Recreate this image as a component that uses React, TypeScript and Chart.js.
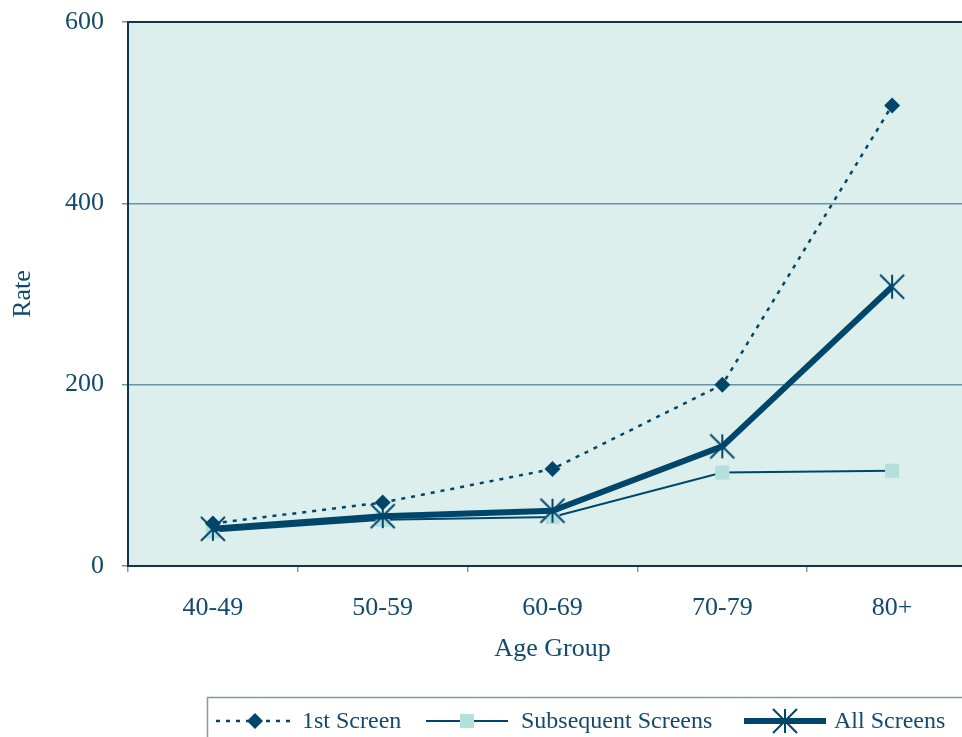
import { useEffect, useRef } from "react";
import { Chart, registerables } from "chart.js";

Chart.register(...registerables);

// Rates by age group for each screening round
const ageGroups = ["40-49", "50-59", "60-69", "70-79", "80+"];
const firstScreen = [47, 70, 107, 200, 508];
const subsequentScreens = [38, 51, 54, 103, 105];
const allScreens = [41, 55, 61, 132, 308];
const rateTicks = [0, 200, 400, 600];

const NAVY = "#00466b";
const TEAL = "#b3e0da";
const PLOT_BG = "#ddefed";
const TEXT = "#134a6b";
const GRID = "#6a93a8";
const FRAME = "#12344d";
const FONT = "'Liberation Serif', 'Times New Roman', serif";

// Asterisk marker: a vertical stroke crossed by two diagonals
function makeStarMarker(): HTMLCanvasElement {
  const c = document.createElement("canvas");
  c.width = 28;
  c.height = 28;
  const g = c.getContext("2d")!;
  g.strokeStyle = NAVY;
  g.lineWidth = 2;
  g.beginPath();
  g.moveTo(14, 2);
  g.lineTo(14, 26);
  g.moveTo(2, 2);
  g.lineTo(26, 26);
  g.moveTo(26, 2);
  g.lineTo(2, 26);
  g.stroke();
  return c;
}

const plotBackground = {
  id: "plotBackground",
  beforeDraw(chart: any) {
    const { ctx, chartArea: a } = chart;
    ctx.save();
    ctx.fillStyle = PLOT_BG;
    ctx.fillRect(a.left, a.top, a.right - a.left, a.bottom - a.top);
    ctx.restore();
  },
  beforeDatasetsDraw(chart: any) {
    const { ctx, chartArea: a } = chart;
    ctx.save();
    ctx.strokeStyle = FRAME;
    ctx.lineWidth = 2;
    ctx.beginPath();
    ctx.moveTo(a.left, a.top);
    ctx.lineTo(a.right, a.top);
    ctx.lineTo(a.right, a.bottom);
    ctx.stroke();
    ctx.restore();
  },
};

// Boxed legend below the chart with a line sample and marker per series
const legendSlots = [
  { from: 216, to: 294, text: 302 },
  { from: 426, to: 508, text: 521 },
  { from: 744, to: 826, text: 834 },
];

const lineLegend = {
  id: "lineLegend",
  afterDraw(chart: any) {
    const { ctx } = chart;
    const boxLeft = 207;
    const boxTop = 697;
    const rowY = 721;
    ctx.save();
    ctx.strokeStyle = "#7f9cae";
    ctx.lineWidth = 1.5;
    ctx.strokeRect(boxLeft + 0.5, boxTop + 0.5, 2000, 200);

    ctx.font = `24px ${FONT}`;
    ctx.textBaseline = "middle";
    ctx.textAlign = "left";
    chart.data.datasets.forEach((ds: any, i: number) => {
      const slot = legendSlots[i];
      ctx.save();
      ctx.strokeStyle = ds.borderColor;
      ctx.lineWidth = ds.borderWidth;
      ctx.setLineDash(ds.borderDash || []);
      ctx.beginPath();
      ctx.moveTo(slot.from, rowY);
      ctx.lineTo(slot.to, rowY);
      ctx.stroke();
      ctx.restore();
      const mx = (slot.from + slot.to) / 2;
      const style = ds.pointStyle;
      if (style instanceof HTMLCanvasElement) {
        ctx.drawImage(style, mx - style.width / 2, rowY - style.height / 2);
      } else {
        ctx.save();
        ctx.fillStyle = ds.pointBackgroundColor;
        ctx.beginPath();
        if (style === "rectRot") {
          const r = ds.pointRadius;
          ctx.moveTo(mx, rowY - r);
          ctx.lineTo(mx + r, rowY);
          ctx.lineTo(mx, rowY + r);
          ctx.lineTo(mx - r, rowY);
          ctx.closePath();
        } else {
          const h = ds.pointRadius * Math.SQRT1_2;
          ctx.rect(mx - h, rowY - h, 2 * h, 2 * h);
        }
        ctx.fill();
        ctx.restore();
      }
      ctx.fillStyle = TEXT;
      ctx.fillText(ds.label, slot.text, rowY + 1);
    });
    ctx.restore();
  },
};

export default function App() {
  const canvasRef = useRef<HTMLCanvasElement | null>(null);

  useEffect(() => {
    const canvas = canvasRef.current;
    if (!canvas) return;
    const star = makeStarMarker();
    const chart = new Chart(canvas, {
      type: "line",
      data: {
        labels: ageGroups,
        datasets: [
          {
            label: "1st Screen",
            data: firstScreen,
            borderColor: NAVY,
            borderWidth: 2.5,
            borderDash: [4, 6],
            pointStyle: "rectRot",
            pointRadius: 8,
            pointBackgroundColor: NAVY,
            pointBorderWidth: 0,
            tension: 0,
            order: 1,
          },
          {
            label: "Subsequent Screens",
            data: subsequentScreens,
            borderColor: NAVY,
            borderWidth: 2,
            pointStyle: "rect",
            pointRadius: 10,
            pointBackgroundColor: TEAL,
            pointBorderWidth: 0,
            tension: 0,
            order: 2,
          },
          {
            label: "All Screens",
            data: allScreens,
            borderColor: NAVY,
            borderWidth: 6,
            pointStyle: star as any,
            pointRadius: 12,
            pointBackgroundColor: NAVY,
            pointBorderWidth: 0,
            tension: 0,
            order: 0,
          },
        ],
      },
      options: {
        responsive: false,
        animation: false,
        events: [],
        layout: { padding: { top: 22, right: 3, bottom: 60, left: 0 } },
        plugins: {
          legend: { display: false },
          tooltip: { enabled: false },
        },
        scales: {
          x: {
            offset: true,
            afterFit(scale: any) {
              scale.height = 111;
              scale.paddingLeft = 0;
              scale.paddingRight = 0;
            },
            grid: {
              offset: true,
              drawOnChartArea: false,
              drawTicks: true,
              tickLength: 6,
              color: "#7d9aab",
              lineWidth: 1.5,
            },
            border: { color: FRAME, width: 2 },
            ticks: {
              color: TEXT,
              font: { family: FONT, size: 26 },
              padding: 21,
              maxRotation: 0,
            },
            title: {
              display: true,
              text: "Age Group",
              color: TEXT,
              font: { family: FONT, size: 26 },
              padding: { top: 4, bottom: 12 },
            },
          },
          y: {
            min: 0,
            max: 600,
            afterFit(scale: any) {
              scale.width = 128;
              scale.paddingTop = 0;
              scale.paddingBottom = 0;
            },
            afterBuildTicks(scale: any) {
              scale.ticks = rateTicks.map((v) => ({ value: v }));
            },
            grid: {
              color: GRID,
              lineWidth: 1.5,
              drawTicks: true,
              tickLength: 6,
            },
            border: { color: FRAME, width: 2 },
            ticks: {
              color: TEXT,
              font: { family: FONT, size: 26 },
              padding: 18,
            },
            title: {
              display: true,
              text: "Rate",
              color: TEXT,
              font: { family: FONT, size: 26 },
              padding: { top: 8, bottom: 0 },
            },
          },
        },
      },
      plugins: [plotBackground, lineLegend],
    });
    return () => chart.destroy();
  }, []);

  return (
    <div
      style={{
        position: "fixed",
        left: 0,
        top: 0,
        width: 962,
        height: 737,
        overflow: "hidden",
        background: "#ffffff",
      }}
    >
      <canvas
        ref={canvasRef}
        width={989}
        height={737}
        style={{ display: "block", width: 989, height: 737 }}
      />
    </div>
  );
}
